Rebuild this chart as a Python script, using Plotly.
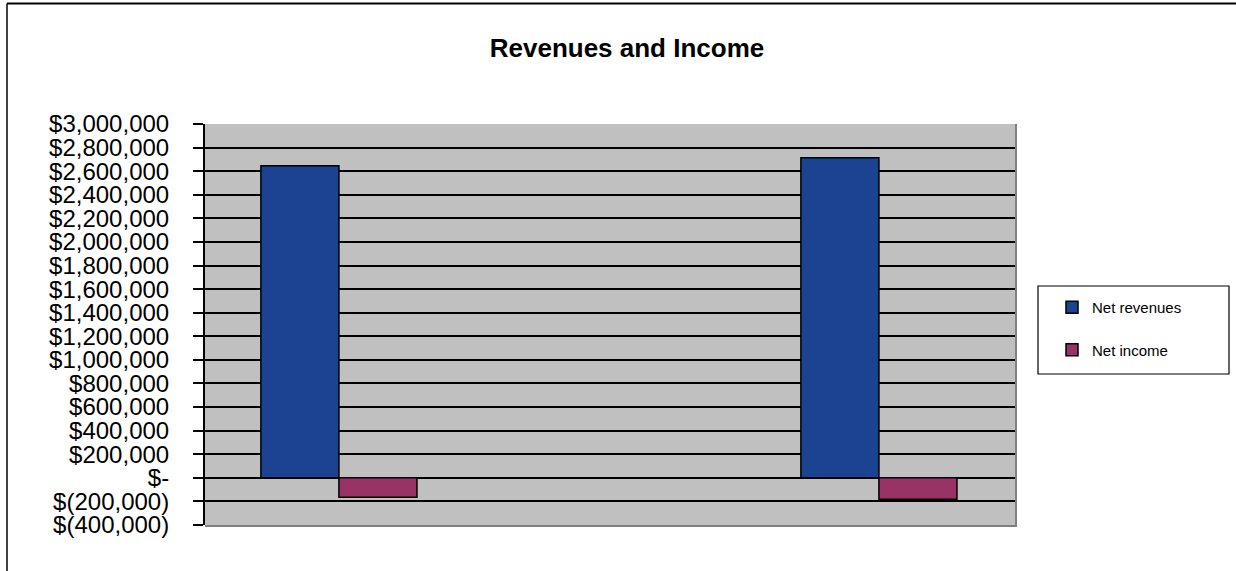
import plotly.graph_objects as go

# ---- data ----
categories = ["Year 1", "Year 2"]
net_revenues = [2646000, 2714000]
net_income = [-165000, -182000]
tick_values = [3000000, 2800000, 2600000, 2400000, 2200000, 2000000, 1800000, 1600000,
               1400000, 1200000, 1000000, 800000, 600000, 400000, 200000, 0,
               -200000, -400000]
tick_labels = ["$3,000,000", "$2,800,000", "$2,600,000", "$2,400,000", "$2,200,000",
               "$2,000,000", "$1,800,000", "$1,600,000", "$1,400,000", "$1,200,000",
               "$1,000,000", "$800,000", "$600,000", "$400,000", "$200,000", "$-",
               "$(200,000)", "$(400,000)"]

FONT = "Arial, Liberation Sans, sans-serif"
W, H = 1236, 571
L, R, T, B = 205, 221, 124, 46
PW, PH = W - L - R, H - T - B


def px(x):
    return (x - L) / PW


def py(y):
    return (H - B - y) / PH


fig = go.Figure()
fig.add_trace(go.Bar(x=categories, y=net_revenues, name="Net revenues",
                     marker=dict(color="#1B4391", line=dict(color="black", width=1.5)),
                     legendgroup="a"))
fig.add_trace(go.Bar(x=categories, y=net_income, name="Net income",
                     marker=dict(color="#993366", line=dict(color="black", width=1.5)),
                     legendgroup="b"))

shapes = [
    # plot shadow right & bottom
    dict(type="line", xref="paper", yref="paper", x0=1 + 1 / PW, x1=1 + 1 / PW, y0=-1 / PH, y1=1,
         line=dict(color="#808080", width=2), layer="above"),
    dict(type="line", xref="paper", yref="paper", x0=0, x1=1 + 2 / PW, y0=-1 / PH, y1=-1 / PH,
         line=dict(color="#808080", width=2), layer="above"),
    # chart border top & left
    dict(type="line", xref="paper", yref="paper", x0=px(7), x1=px(1240), y0=py(3.5), y1=py(3.5),
         line=dict(color="black", width=2)),
    dict(type="line", xref="paper", yref="paper", x0=px(7), x1=px(7), y0=py(3.5), y1=py(575),
         line=dict(color="black", width=1.5)),
    # legend box
    dict(type="rect", xref="paper", yref="paper", x0=px(1038), x1=px(1229), y0=py(374), y1=py(286),
         line=dict(color="black", width=1.2), fillcolor="white"),
]

fig.update_layout(
    width=W, height=H,
    margin=dict(l=L, r=R, t=T, b=B, autoexpand=False),
    paper_bgcolor="white",
    plot_bgcolor="#C0C0C0",
    barmode="group",
    bargap=0.711,
    bargroupgap=0,
    font=dict(family=FONT, color="black"),
    title=dict(text="<b>Revenues and Income</b>", x=627 / W, xref="container", xanchor="center",
               y=1 - 48 / H, yref="container", yanchor="middle",
               font=dict(family=FONT, size=26, color="black")),
    xaxis=dict(range=[-0.248, 1.252], showticklabels=False, showgrid=False, zeroline=False,
               ticks="", showline=False),
    yaxis=dict(range=[-400000, 3000000], tickvals=tick_values, ticktext=tick_labels,
               tickfont=dict(family=FONT, size=24, color="black"),
               ticks="outside", ticklen=10, tickwidth=2, tickcolor="black",
               ticklabelstandoff=19,
               showline=True, linecolor="black", linewidth=2,
               showgrid=True, gridcolor="black", gridwidth=1.5,
               zeroline=True, zerolinecolor="black", zerolinewidth=1.5),
    legend=dict(x=px(1052), y=py(291), xanchor="left", yanchor="top",
                bgcolor="rgba(0,0,0,0)", borderwidth=0,
                font=dict(family=FONT, size=15, color="black"),
                tracegroupgap=20, traceorder="grouped"),
    shapes=shapes,
    showlegend=True,
)

fig.write_html("out.html")
